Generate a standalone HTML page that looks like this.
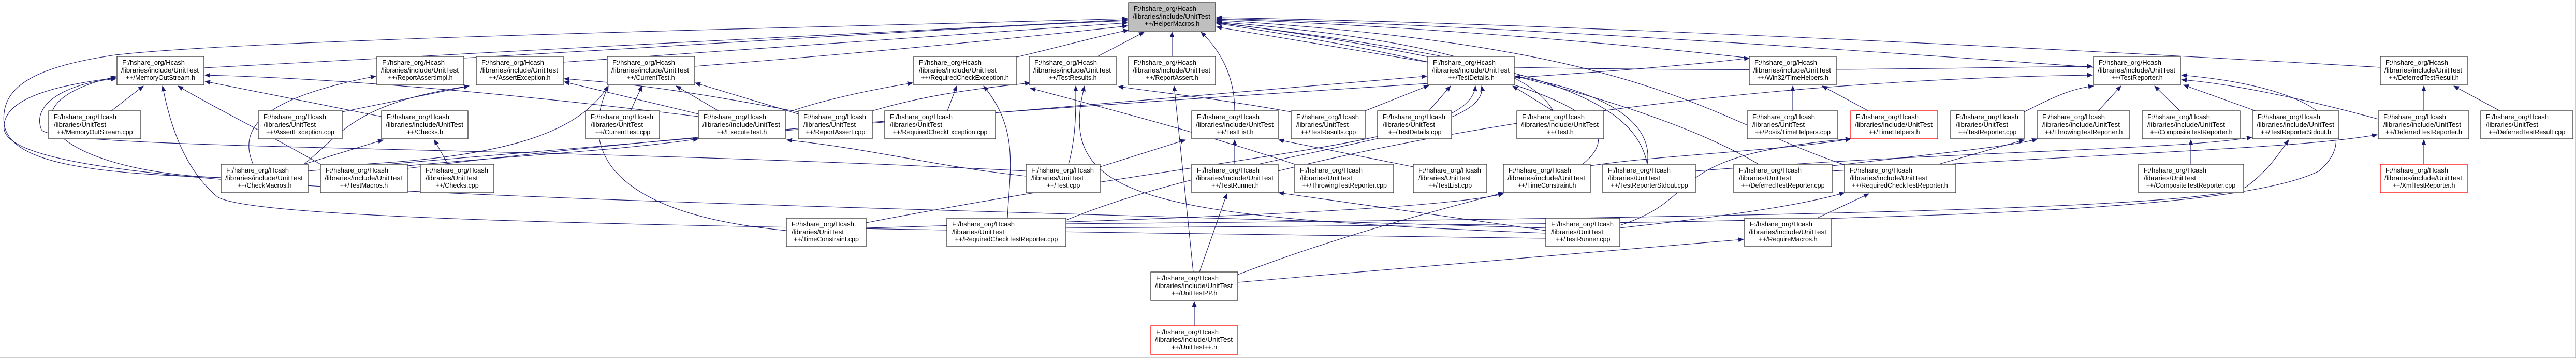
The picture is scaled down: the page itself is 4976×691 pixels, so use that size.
<!DOCTYPE html>
<html><head><meta charset="utf-8"><style>
html,body{margin:0;padding:0;background:#fff;}
svg{display:block;}
text{font-family:"Liberation Sans",Arial,sans-serif;font-size:12.5px;fill:#000;}
rect{fill:#fff;stroke:#333;stroke-width:1.3;}
rect.g{fill:#bfbfbf;}
rect.r{stroke:#ff0000;}
path.e{fill:none;stroke:#191970;stroke-width:1.1;}
</style></head><body>
<svg width="4976" height="691" viewBox="0 0 4976 691" xmlns="http://www.w3.org/2000/svg">
<defs><marker id="a" markerWidth="11" markerHeight="9" refX="10" refY="4.5" orient="auto" markerUnits="userSpaceOnUse"><path d="M0,0 L11,4.5 L0,9z" fill="#191970"/></marker></defs>
<line x1="0" y1="690" x2="4976" y2="690" stroke="#999"/>
<line x1="4975" y1="0" x2="4975" y2="691" stroke="#999"/>
<g marker-end="url(#a)">
<path class="e" d="M394,131 C900,100 1800,60 2178,38"/>
<path class="e" d="M896,112 C1300,90 1900,50 2178,40"/>
<path class="e" d="M1088,120 C1500,90 1900,60 2178,44"/>
<path class="e" d="M1342,128 C1700,100 2000,70 2178,50"/>
<path class="e" d="M1964,110 C2050,90 2120,70 2180,58"/>
<path class="e" d="M2120,109 L2210,62"/>
<path class="e" d="M2264,109 L2264,62"/>
<path class="e" d="M2385,214 C2385,150 2360,100 2320,62"/>
<path class="e" d="M2758,120 L2350,52"/>
<path class="e" d="M3379,112 C3000,70 2600,45 2350,37"/>
<path class="e" d="M4044,130 C3500,90 2800,45 2350,36"/>
<path class="e" d="M4598,130 C4000,95 3000,45 2350,34"/>
<path class="e" d="M427,343 C200,335 20,320 8,240 C0,170 60,130 223,106 C500,75 1500,55 2178,36"/>
<path class="e" d="M3000,214 C2950,120 2700,70 2350,42"/>
<path class="e" d="M3057,317 C3140,250 3100,160 2350,45"/>
<path class="e" d="M3182,317 C3160,200 3000,120 2350,44"/>
<path class="e" d="M3397,317 C3200,200 2800,100 2350,43"/>
<path class="e" d="M3560,317 C3300,230 3200,90 2350,39"/>
<path class="e" d="M215,214 L277,166"/>
<path class="e" d="M619,317 C520,260 400,200 344,166"/>
<path class="e" d="M2986,460 C1500,440 500,430 420,380 C360,330 330,250 314,166"/>
<path class="e" d="M737,225 L396,157"/>
<path class="e" d="M1349,225 C900,170 600,150 396,145"/>
<path class="e" d="M427,343 C100,330 -10,200 224,148"/>
<path class="e" d="M2986,440 C1000,380 30,370 8,250 C0,180 150,160 224,150"/>
<path class="e" d="M1982,330 C1000,280 100,290 80,250 C60,200 130,160 224,152"/>
<path class="e" d="M489,317 C460,250 500,190 726,147"/>
<path class="e" d="M661,216 L906,166"/>
<path class="e" d="M587,317 C660,260 680,200 906,166"/>
<path class="e" d="M587,317 L740,270"/>
<path class="e" d="M865,317 L839,270"/>
<path class="e" d="M1519,445 C1250,420 1100,330 1175,166"/>
<path class="e" d="M1218,214 L1240,166"/>
<path class="e" d="M1388,214 L1306,166"/>
<path class="e" d="M1542,220 L1343,160"/>
<path class="e" d="M1542,216 C1300,170 1200,160 1090,152"/>
<path class="e" d="M1349,220 L1090,158"/>
<path class="e" d="M700,317 C1000,300 1120,250 1175,166"/>
<path class="e" d="M1982,340 C1800,320 1700,290 1520,270"/>
<path class="e" d="M787,320 C1000,300 1200,290 1349,268"/>
<path class="e" d="M1530,214 C1600,190 1700,170 1763,160"/>
<path class="e" d="M1830,214 L1848,166"/>
<path class="e" d="M1946,421 C1950,330 1970,250 1900,166"/>
<path class="e" d="M1685,214 C1800,180 1900,170 1990,160"/>
<path class="e" d="M2064,317 C2080,260 2078,200 2078,166"/>
<path class="e" d="M2986,450 C2200,420 2040,380 2095,166"/>
<path class="e" d="M2494,216 C2350,190 2250,180 2160,167"/>
<path class="e" d="M3000,214 L2922,166"/>
<path class="e" d="M2637,214 L2760,165"/>
<path class="e" d="M2760,214 L2802,166"/>
<path class="e" d="M1673,430 C2400,290 2840,280 2850,166"/>
<path class="e" d="M2059,425 C2400,285 2880,270 2862,166"/>
<path class="e" d="M595,330 L2756,147"/>
<path class="e" d="M3182,317 C3200,200 3000,160 2927,147"/>
<path class="e" d="M2305,525 L2268,166"/>
<path class="e" d="M2385,317 L2385,270"/>
<path class="e" d="M2125,322 L2290,270"/>
<path class="e" d="M2730,322 L2470,270"/>
<path class="e" d="M2501,317 C2300,250 2100,200 1990,170"/>
<path class="e" d="M2317,525 L2370,374"/>
<path class="e" d="M2986,445 L2470,372"/>
<path class="e" d="M2391,530 C2600,450 2800,400 2904,372"/>
<path class="e" d="M1673,440 C2400,420 2800,400 2904,374"/>
<path class="e" d="M2391,545 L3368,462"/>
<path class="e" d="M3510,421 L3610,374"/>
<path class="e" d="M3129,440 C3400,410 3500,390 3563,372"/>
<path class="e" d="M3129,435 C3300,380 3200,300 3575,268"/>
<path class="e" d="M3072,320 C3200,300 3450,290 3575,268"/>
<path class="e" d="M2307,629 L2307,582"/>
<path class="e" d="M3463,214 L3463,166"/>
<path class="e" d="M3609,214 L3520,166"/>
<path class="e" d="M3910,216 C3980,180 4010,170 4044,166"/>
<path class="e" d="M4053,214 L4097,166"/>
<path class="e" d="M4211,214 L4162,166"/>
<path class="e" d="M4357,214 L4218,164"/>
<path class="e" d="M4594,230 C4450,190 4300,160 4214,154"/>
<path class="e" d="M2059,440 C3500,430 4300,420 4480,330 C4560,260 4500,170 4214,145"/>
<path class="e" d="M2059,432 C3500,420 4280,400 4340,360 C4380,330 4400,300 4421,270"/>
<path class="e" d="M2469,330 C3000,200 3600,150 4042,145"/>
<path class="e" d="M2925,130 C3500,140 3800,130 4042,128"/>
<path class="e" d="M4232,317 L4232,270"/>
<path class="e" d="M3275,330 C3800,290 4200,290 4350,265"/>
<path class="e" d="M3539,330 C4200,290 4450,285 4592,260"/>
<path class="e" d="M4682,317 L4682,270"/>
<path class="e" d="M4682,214 L4682,166"/>
<path class="e" d="M4829,214 L4740,166"/>
<path class="e" d="M3539,320 C3800,290 3900,280 3935,268"/>
<path class="e" d="M3745,317 L3910,270"/>
<path class="e" d="M787,325 C1800,200 3000,160 3379,112"/>
</g>
<g>
<g transform="translate(2180,5)"><rect class="g" width="168" height="55"/><text x="10" y="16" textLength="121" lengthAdjust="spacingAndGlyphs">F:/hshare_org/Hcash</text><text x="8" y="31" textLength="150" lengthAdjust="spacingAndGlyphs">/libraries/include/UnitTest</text><text x="84" y="45" text-anchor="middle">++/HelperMacros.h</text></g>
<g transform="translate(226,109)"><rect width="168" height="55"/><text x="10" y="16" textLength="121" lengthAdjust="spacingAndGlyphs">F:/hshare_org/Hcash</text><text x="8" y="31" textLength="150" lengthAdjust="spacingAndGlyphs">/libraries/include/UnitTest</text><text x="84" y="45" text-anchor="middle">++/MemoryOutStream.h</text></g>
<g transform="translate(728,109)"><rect width="168" height="55"/><text x="10" y="16" textLength="121" lengthAdjust="spacingAndGlyphs">F:/hshare_org/Hcash</text><text x="8" y="31" textLength="150" lengthAdjust="spacingAndGlyphs">/libraries/include/UnitTest</text><text x="84" y="45" text-anchor="middle">++/ReportAssertImpl.h</text></g>
<g transform="translate(920,109)"><rect width="168" height="55"/><text x="10" y="16" textLength="121" lengthAdjust="spacingAndGlyphs">F:/hshare_org/Hcash</text><text x="8" y="31" textLength="150" lengthAdjust="spacingAndGlyphs">/libraries/include/UnitTest</text><text x="84" y="45" text-anchor="middle">++/AssertException.h</text></g>
<g transform="translate(1173,109)"><rect width="169" height="55"/><text x="10" y="16" textLength="121" lengthAdjust="spacingAndGlyphs">F:/hshare_org/Hcash</text><text x="8" y="31" textLength="150" lengthAdjust="spacingAndGlyphs">/libraries/include/UnitTest</text><text x="84" y="45" text-anchor="middle">++/CurrentTest.h</text></g>
<g transform="translate(1765,109)"><rect width="199" height="55"/><text x="10" y="16" textLength="121" lengthAdjust="spacingAndGlyphs">F:/hshare_org/Hcash</text><text x="10" y="31" textLength="150" lengthAdjust="spacingAndGlyphs">/libraries/include/UnitTest</text><text x="99" y="45" text-anchor="middle">++/RequiredCheckException.h</text></g>
<g transform="translate(1988,109)"><rect width="168" height="55"/><text x="10" y="16" textLength="121" lengthAdjust="spacingAndGlyphs">F:/hshare_org/Hcash</text><text x="8" y="31" textLength="150" lengthAdjust="spacingAndGlyphs">/libraries/include/UnitTest</text><text x="84" y="45" text-anchor="middle">++/TestResults.h</text></g>
<g transform="translate(2180,109)"><rect width="168" height="55"/><text x="10" y="16" textLength="121" lengthAdjust="spacingAndGlyphs">F:/hshare_org/Hcash</text><text x="8" y="31" textLength="150" lengthAdjust="spacingAndGlyphs">/libraries/include/UnitTest</text><text x="84" y="45" text-anchor="middle">++/ReportAssert.h</text></g>
<g transform="translate(2758,109)"><rect width="167" height="55"/><text x="10" y="16" textLength="121" lengthAdjust="spacingAndGlyphs">F:/hshare_org/Hcash</text><text x="8" y="31" textLength="150" lengthAdjust="spacingAndGlyphs">/libraries/include/UnitTest</text><text x="84" y="45" text-anchor="middle">++/TestDetails.h</text></g>
<g transform="translate(3379,109)"><rect width="168" height="55"/><text x="10" y="16" textLength="121" lengthAdjust="spacingAndGlyphs">F:/hshare_org/Hcash</text><text x="8" y="31" textLength="150" lengthAdjust="spacingAndGlyphs">/libraries/include/UnitTest</text><text x="84" y="45" text-anchor="middle">++/Win32/TimeHelpers.h</text></g>
<g transform="translate(4044,109)"><rect width="168" height="55"/><text x="10" y="16" textLength="121" lengthAdjust="spacingAndGlyphs">F:/hshare_org/Hcash</text><text x="8" y="31" textLength="150" lengthAdjust="spacingAndGlyphs">/libraries/include/UnitTest</text><text x="84" y="45" text-anchor="middle">++/TestReporter.h</text></g>
<g transform="translate(4598,109)"><rect width="168" height="55"/><text x="10" y="16" textLength="121" lengthAdjust="spacingAndGlyphs">F:/hshare_org/Hcash</text><text x="8" y="31" textLength="150" lengthAdjust="spacingAndGlyphs">/libraries/include/UnitTest</text><text x="84" y="45" text-anchor="middle">++/DeferredTestResult.h</text></g>

<g transform="translate(94,214)"><rect width="178" height="54"/><text x="10" y="16" textLength="121" lengthAdjust="spacingAndGlyphs">F:/hshare_org/Hcash</text><text x="10" y="31" textLength="101" lengthAdjust="spacingAndGlyphs">/libraries/UnitTest</text><text x="89" y="45" text-anchor="middle">++/MemoryOutStream.cpp</text></g>
<g transform="translate(499,214)"><rect width="162" height="54"/><text x="10" y="16" textLength="121" lengthAdjust="spacingAndGlyphs">F:/hshare_org/Hcash</text><text x="10" y="31" textLength="101" lengthAdjust="spacingAndGlyphs">/libraries/UnitTest</text><text x="81" y="45" text-anchor="middle">++/AssertException.cpp</text></g>
<g transform="translate(737,214)"><rect width="167" height="54"/><text x="10" y="16" textLength="121" lengthAdjust="spacingAndGlyphs">F:/hshare_org/Hcash</text><text x="8" y="31" textLength="150" lengthAdjust="spacingAndGlyphs">/libraries/include/UnitTest</text><text x="84" y="45" text-anchor="middle">++/Checks.h</text></g>
<g transform="translate(1131,214)"><rect width="143" height="54"/><text x="10" y="16" textLength="121" lengthAdjust="spacingAndGlyphs">F:/hshare_org/Hcash</text><text x="10" y="31" textLength="101" lengthAdjust="spacingAndGlyphs">/libraries/UnitTest</text><text x="72" y="45" text-anchor="middle">++/CurrentTest.cpp</text></g>
<g transform="translate(1349,214)"><rect width="168" height="54"/><text x="10" y="16" textLength="121" lengthAdjust="spacingAndGlyphs">F:/hshare_org/Hcash</text><text x="8" y="31" textLength="150" lengthAdjust="spacingAndGlyphs">/libraries/include/UnitTest</text><text x="84" y="45" text-anchor="middle">++/ExecuteTest.h</text></g>
<g transform="translate(1542,214)"><rect width="143" height="54"/><text x="10" y="16" textLength="121" lengthAdjust="spacingAndGlyphs">F:/hshare_org/Hcash</text><text x="10" y="31" textLength="101" lengthAdjust="spacingAndGlyphs">/libraries/UnitTest</text><text x="72" y="45" text-anchor="middle">++/ReportAssert.cpp</text></g>
<g transform="translate(1709,214)"><rect width="214" height="54"/><text x="10" y="16" textLength="121" lengthAdjust="spacingAndGlyphs">F:/hshare_org/Hcash</text><text x="10" y="31" textLength="101" lengthAdjust="spacingAndGlyphs">/libraries/UnitTest</text><text x="107" y="45" text-anchor="middle">++/RequiredCheckException.cpp</text></g>
<g transform="translate(2302,214)"><rect width="167" height="54"/><text x="10" y="16" textLength="121" lengthAdjust="spacingAndGlyphs">F:/hshare_org/Hcash</text><text x="8" y="31" textLength="150" lengthAdjust="spacingAndGlyphs">/libraries/include/UnitTest</text><text x="84" y="45" text-anchor="middle">++/TestList.h</text></g>
<g transform="translate(2494,214)"><rect width="143" height="54"/><text x="10" y="16" textLength="121" lengthAdjust="spacingAndGlyphs">F:/hshare_org/Hcash</text><text x="10" y="31" textLength="101" lengthAdjust="spacingAndGlyphs">/libraries/UnitTest</text><text x="72" y="45" text-anchor="middle">++/TestResults.cpp</text></g>
<g transform="translate(2661,214)"><rect width="143" height="54"/><text x="10" y="16" textLength="121" lengthAdjust="spacingAndGlyphs">F:/hshare_org/Hcash</text><text x="10" y="31" textLength="101" lengthAdjust="spacingAndGlyphs">/libraries/UnitTest</text><text x="72" y="45" text-anchor="middle">++/TestDetails.cpp</text></g>
<g transform="translate(2930,214)"><rect width="168" height="54"/><text x="10" y="16" textLength="121" lengthAdjust="spacingAndGlyphs">F:/hshare_org/Hcash</text><text x="8" y="31" textLength="150" lengthAdjust="spacingAndGlyphs">/libraries/include/UnitTest</text><text x="84" y="45" text-anchor="middle">++/Test.h</text></g>
<g transform="translate(3375,214)"><rect width="175" height="54"/><text x="10" y="16" textLength="121" lengthAdjust="spacingAndGlyphs">F:/hshare_org/Hcash</text><text x="10" y="31" textLength="101" lengthAdjust="spacingAndGlyphs">/libraries/UnitTest</text><text x="88" y="45" text-anchor="middle">++/Posix/TimeHelpers.cpp</text></g>
<g transform="translate(3575,214)"><rect class="r" width="168" height="54"/><text x="10" y="16" textLength="121" lengthAdjust="spacingAndGlyphs">F:/hshare_org/Hcash</text><text x="8" y="31" textLength="150" lengthAdjust="spacingAndGlyphs">/libraries/include/UnitTest</text><text x="84" y="45" text-anchor="middle">++/TimeHelpers.h</text></g>
<g transform="translate(3768,214)"><rect width="142" height="54"/><text x="10" y="16" textLength="121" lengthAdjust="spacingAndGlyphs">F:/hshare_org/Hcash</text><text x="10" y="31" textLength="101" lengthAdjust="spacingAndGlyphs">/libraries/UnitTest</text><text x="71" y="45" text-anchor="middle">++/TestReporter.cpp</text></g>
<g transform="translate(3935,214)"><rect width="179" height="54"/><text x="10" y="16" textLength="121" lengthAdjust="spacingAndGlyphs">F:/hshare_org/Hcash</text><text x="10" y="31" textLength="150" lengthAdjust="spacingAndGlyphs">/libraries/include/UnitTest</text><text x="90" y="45" text-anchor="middle">++/ThrowingTestReporter.h</text></g>
<g transform="translate(4138,214)"><rect width="189" height="54"/><text x="10" y="16" textLength="121" lengthAdjust="spacingAndGlyphs">F:/hshare_org/Hcash</text><text x="10" y="31" textLength="150" lengthAdjust="spacingAndGlyphs">/libraries/include/UnitTest</text><text x="95" y="45" text-anchor="middle">++/CompositeTestReporter.h</text></g>
<g transform="translate(4351,214)"><rect width="167" height="54"/><text x="10" y="16" textLength="121" lengthAdjust="spacingAndGlyphs">F:/hshare_org/Hcash</text><text x="8" y="31" textLength="150" lengthAdjust="spacingAndGlyphs">/libraries/include/UnitTest</text><text x="84" y="45" text-anchor="middle">++/TestReporterStdout.h</text></g>
<g transform="translate(4594,214)"><rect width="175" height="54"/><text x="10" y="16" textLength="121" lengthAdjust="spacingAndGlyphs">F:/hshare_org/Hcash</text><text x="10" y="31" textLength="150" lengthAdjust="spacingAndGlyphs">/libraries/include/UnitTest</text><text x="88" y="45" text-anchor="middle">++/DeferredTestReporter.h</text></g>
<g transform="translate(4792,214)"><rect width="178" height="54"/><text x="10" y="16" textLength="121" lengthAdjust="spacingAndGlyphs">F:/hshare_org/Hcash</text><text x="10" y="31" textLength="101" lengthAdjust="spacingAndGlyphs">/libraries/UnitTest</text><text x="89" y="45" text-anchor="middle">++/DeferredTestResult.cpp</text></g>

<g transform="translate(427,317)"><rect width="168" height="55"/><text x="10" y="16" textLength="121" lengthAdjust="spacingAndGlyphs">F:/hshare_org/Hcash</text><text x="8" y="31" textLength="150" lengthAdjust="spacingAndGlyphs">/libraries/include/UnitTest</text><text x="84" y="45" text-anchor="middle">++/CheckMacros.h</text></g>
<g transform="translate(619,317)"><rect width="168" height="55"/><text x="10" y="16" textLength="121" lengthAdjust="spacingAndGlyphs">F:/hshare_org/Hcash</text><text x="8" y="31" textLength="150" lengthAdjust="spacingAndGlyphs">/libraries/include/UnitTest</text><text x="84" y="45" text-anchor="middle">++/TestMacros.h</text></g>
<g transform="translate(812,317)"><rect width="142" height="55"/><text x="10" y="16" textLength="121" lengthAdjust="spacingAndGlyphs">F:/hshare_org/Hcash</text><text x="10" y="31" textLength="101" lengthAdjust="spacingAndGlyphs">/libraries/UnitTest</text><text x="71" y="45" text-anchor="middle">++/Checks.cpp</text></g>
<g transform="translate(1982,317)"><rect width="143" height="55"/><text x="10" y="16" textLength="121" lengthAdjust="spacingAndGlyphs">F:/hshare_org/Hcash</text><text x="10" y="31" textLength="101" lengthAdjust="spacingAndGlyphs">/libraries/UnitTest</text><text x="72" y="45" text-anchor="middle">++/Test.cpp</text></g>
<g transform="translate(2302,317)"><rect width="167" height="55"/><text x="10" y="16" textLength="121" lengthAdjust="spacingAndGlyphs">F:/hshare_org/Hcash</text><text x="8" y="31" textLength="150" lengthAdjust="spacingAndGlyphs">/libraries/include/UnitTest</text><text x="84" y="45" text-anchor="middle">++/TestRunner.h</text></g>
<g transform="translate(2501,317)"><rect width="191" height="55"/><text x="10" y="16" textLength="121" lengthAdjust="spacingAndGlyphs">F:/hshare_org/Hcash</text><text x="10" y="31" textLength="101" lengthAdjust="spacingAndGlyphs">/libraries/UnitTest</text><text x="96" y="45" text-anchor="middle">++/ThrowingTestReporter.cpp</text></g>
<g transform="translate(2730,317)"><rect width="142" height="55"/><text x="10" y="16" textLength="121" lengthAdjust="spacingAndGlyphs">F:/hshare_org/Hcash</text><text x="10" y="31" textLength="101" lengthAdjust="spacingAndGlyphs">/libraries/UnitTest</text><text x="71" y="45" text-anchor="middle">++/TestList.cpp</text></g>
<g transform="translate(2904,317)"><rect width="168" height="55"/><text x="10" y="16" textLength="121" lengthAdjust="spacingAndGlyphs">F:/hshare_org/Hcash</text><text x="8" y="31" textLength="150" lengthAdjust="spacingAndGlyphs">/libraries/include/UnitTest</text><text x="84" y="45" text-anchor="middle">++/TimeConstraint.h</text></g>
<g transform="translate(3096,317)"><rect width="179" height="55"/><text x="10" y="16" textLength="121" lengthAdjust="spacingAndGlyphs">F:/hshare_org/Hcash</text><text x="10" y="31" textLength="101" lengthAdjust="spacingAndGlyphs">/libraries/UnitTest</text><text x="90" y="45" text-anchor="middle">++/TestReporterStdout.cpp</text></g>
<g transform="translate(3349,317)"><rect width="190" height="55"/><text x="10" y="16" textLength="121" lengthAdjust="spacingAndGlyphs">F:/hshare_org/Hcash</text><text x="10" y="31" textLength="101" lengthAdjust="spacingAndGlyphs">/libraries/UnitTest</text><text x="95" y="45" text-anchor="middle">++/DeferredTestReporter.cpp</text></g>
<g transform="translate(3563,317)"><rect width="215" height="55"/><text x="10" y="16" textLength="121" lengthAdjust="spacingAndGlyphs">F:/hshare_org/Hcash</text><text x="10" y="31" textLength="150" lengthAdjust="spacingAndGlyphs">/libraries/include/UnitTest</text><text x="107" y="45" text-anchor="middle">++/RequiredCheckTestReporter.h</text></g>
<g transform="translate(4131,317)"><rect width="203" height="55"/><text x="10" y="16" textLength="121" lengthAdjust="spacingAndGlyphs">F:/hshare_org/Hcash</text><text x="10" y="31" textLength="101" lengthAdjust="spacingAndGlyphs">/libraries/UnitTest</text><text x="101" y="45" text-anchor="middle">++/CompositeTestReporter.cpp</text></g>
<g transform="translate(4598,317)"><rect class="r" width="168" height="55"/><text x="10" y="16" textLength="121" lengthAdjust="spacingAndGlyphs">F:/hshare_org/Hcash</text><text x="8" y="31" textLength="150" lengthAdjust="spacingAndGlyphs">/libraries/include/UnitTest</text><text x="84" y="45" text-anchor="middle">++/XmlTestReporter.h</text></g>

<g transform="translate(1519,421)"><rect width="154" height="55"/><text x="10" y="16" textLength="121" lengthAdjust="spacingAndGlyphs">F:/hshare_org/Hcash</text><text x="10" y="31" textLength="101" lengthAdjust="spacingAndGlyphs">/libraries/UnitTest</text><text x="77" y="45" text-anchor="middle">++/TimeConstraint.cpp</text></g>
<g transform="translate(1829,421)"><rect width="230" height="55"/><text x="10" y="16" textLength="121" lengthAdjust="spacingAndGlyphs">F:/hshare_org/Hcash</text><text x="10" y="31" textLength="101" lengthAdjust="spacingAndGlyphs">/libraries/UnitTest</text><text x="115" y="45" text-anchor="middle">++/RequiredCheckTestReporter.cpp</text></g>
<g transform="translate(2986,421)"><rect width="143" height="55"/><text x="10" y="16" textLength="121" lengthAdjust="spacingAndGlyphs">F:/hshare_org/Hcash</text><text x="10" y="31" textLength="101" lengthAdjust="spacingAndGlyphs">/libraries/UnitTest</text><text x="72" y="45" text-anchor="middle">++/TestRunner.cpp</text></g>
<g transform="translate(3370,421)"><rect width="168" height="55"/><text x="10" y="16" textLength="121" lengthAdjust="spacingAndGlyphs">F:/hshare_org/Hcash</text><text x="8" y="31" textLength="150" lengthAdjust="spacingAndGlyphs">/libraries/include/UnitTest</text><text x="84" y="45" text-anchor="middle">++/RequireMacros.h</text></g>

<g transform="translate(2223,525)"><rect width="168" height="55"/><text x="10" y="16" textLength="121" lengthAdjust="spacingAndGlyphs">F:/hshare_org/Hcash</text><text x="8" y="31" textLength="150" lengthAdjust="spacingAndGlyphs">/libraries/include/UnitTest</text><text x="84" y="45" text-anchor="middle">++/UnitTestPP.h</text></g>
<g transform="translate(2223,629)"><rect class="r" width="168" height="55"/><text x="10" y="16" textLength="121" lengthAdjust="spacingAndGlyphs">F:/hshare_org/Hcash</text><text x="8" y="31" textLength="150" lengthAdjust="spacingAndGlyphs">/libraries/include/UnitTest</text><text x="84" y="45" text-anchor="middle">++/UnitTest++.h</text></g>
</g>
</svg>
</body></html>
